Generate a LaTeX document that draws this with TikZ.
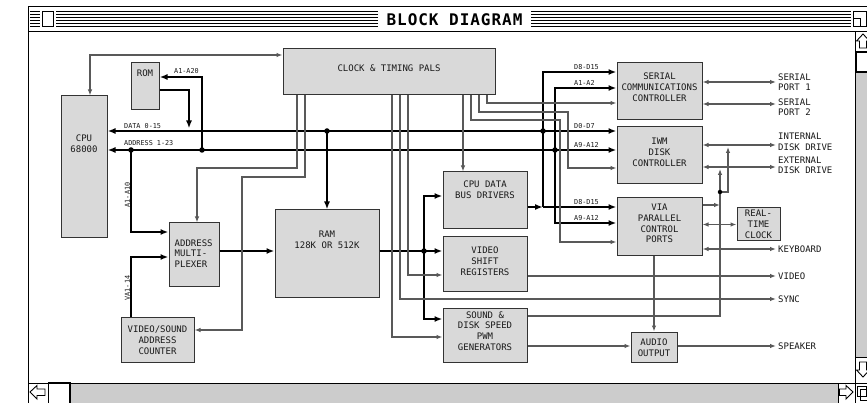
\documentclass[tikz,border=0pt]{standalone}
\usepackage{fontspec}
\usetikzlibrary{arrows.meta}
\newfontfamily\dmono{DejaVu Sans Mono}
\newfontfamily\dtitle[LetterSpace=6]{DejaVu Sans Mono}
\begin{document}
\begin{tikzpicture}[x=1pt,y=-1pt,
  box/.style={draw=black!80,fill=black!15,line width=1pt,inner sep=0pt},
  txt/.style={font=\dmono\fontsize{9}{10.8}\selectfont,align=center,text=black!90,inner sep=0pt},
  sm/.style={font=\dmono\fontsize{6.8}{8}\selectfont,text=black!90,inner sep=0pt},
  port/.style={font=\dmono\fontsize{9}{10.5}\selectfont,text=black!90,inner sep=2pt,anchor=west,align=left},
  wire/.style={line width=1.1pt,draw=black!65},
  bus/.style={line width=2.4pt,draw=black},
  ar/.style={-{Latex[length=6pt,width=4.5pt]}},
  dar/.style={{Latex[length=6pt,width=4.5pt]}-{Latex[length=6pt,width=4.5pt]}},
  bar/.style={-{Latex[length=8pt,width=6pt]}},
  bdar/.style={{Latex[length=8pt,width=6pt]}-{Latex[length=8pt,width=6pt]}},
  dot/.style={circle,fill=black,inner sep=0pt,minimum size=5.5pt},
  winline/.style={line width=1pt,draw=black},
  scrollfill/.style={fill=black!20},
]
\useasboundingbox (0,0) rectangle (867,403);
\clip (0,0) rectangle (867,403);
\fill[white] (0,0) rectangle (867,403);

% ---------- window chrome ----------
\foreach \yy in {12,15,18,21,24,27} \draw[line width=1pt] (30,\yy) -- (867,\yy);
\fill[white] (40,9) rectangle (56,30);
\draw[line width=1pt,fill=white] (42,12) rectangle (53,27);
\fill[white] (378,9) rectangle (531,30);
\node[font=\dtitle\bfseries\fontsize{16}{16}\selectfont,inner sep=0pt] (title) at (454.5,19.5) {BLOCK DIAGRAM};
\fill[white] (851,9) rectangle (867,30);
\draw[line width=1pt] (853,12) rectangle (866,27);
\draw[line width=1pt] (853,19) -- (860,19) -- (860,27);
\draw[winline] (28,7) -- (870,7);
\draw[winline] (28,7) -- (28,410);
\draw[winline] (28,31.5) -- (870,31.5);
% right scrollbar
\fill[scrollfill] (855,72) rectangle (870,357);
\draw[winline] (855,31.5) -- (855,383);
\draw[winline] (855,52) -- (870,52);
\draw[line width=1.6pt,fill=white] (856,52.5) rectangle (870,72);
\draw[winline] (855,357) -- (870,357);
\draw[line width=0.9pt,fill=white] (863,34) -- (856.5,41) -- (859.5,41) -- (859.5,48) -- (866.5,48) -- (866.5,41) -- (869.5,41) -- cycle;
\draw[line width=0.9pt,fill=white] (863,377) -- (856.5,370) -- (859.5,370) -- (859.5,362) -- (866.5,362) -- (866.5,370) -- (869.5,370) -- cycle;
% bottom scrollbar
\fill[scrollfill] (70,383) rectangle (838,410);
\draw[winline] (28,383) -- (870,383);
\draw[line width=1.2pt,fill=white] (48.5,383) rectangle (70,410);
\draw[winline] (838,383) -- (838,410);
\draw[winline] (855,383) -- (855,410);
\draw[line width=0.9pt,fill=white] (30,392) -- (37,385.5) -- (37,389) -- (45,389) -- (45,395.5) -- (37,395.5) -- (37,399) -- cycle;
\draw[line width=0.9pt,fill=white] (853,392) -- (846,385.5) -- (846,389) -- (839.5,389) -- (839.5,395.5) -- (846,395.5) -- (846,399) -- cycle;
\draw[line width=0.9pt] (857,386) rectangle (866,396);
\draw[line width=0.9pt] (860,389) rectangle (870,400);

% ---------- blocks ----------
\node[box,minimum width=46pt,minimum height=142pt] (cpu) at (84,167) {};
\node[txt] (cpuT) at (84,144) {CPU\\68000};
\node[box,minimum width=28pt,minimum height=47pt] (rom) at (145,86.5) {};
\node[txt] (romT) at (145,73) {ROM};
\node[box,minimum width=212pt,minimum height=46pt] (clock) at (389,72) {};
\node[txt] (clockT) at (389,68) {CLOCK \& TIMING PALS};
\node[box,minimum width=50pt,minimum height=64pt] (mux) at (194,255) {};
\node[txt,align=left,anchor=west] (muxT) at (174.5,253.5) {ADDRESS\\MULTI-\\PLEXER};
\node[box,minimum width=73pt,minimum height=45pt] (ctr) at (157.5,339.5) {};
\node[txt] (ctrT) at (157.5,340.5) {VIDEO/SOUND\\ADDRESS\\COUNTER};
\node[box,minimum width=104pt,minimum height=87pt] (ram) at (327,253.5) {};
\node[txt] (ramT) at (327,240) {RAM\\128K OR 512K};
\node[box,minimum width=84pt,minimum height=57pt] (bd) at (485,200.5) {};
\node[txt] (bdT) at (485,189.5) {CPU DATA\\BUS DRIVERS};
\node[box,minimum width=84pt,minimum height=54pt] (vsr) at (485,264) {};
\node[txt] (vsrT) at (485,261.5) {VIDEO\\SHIFT\\REGISTERS};
\node[box,minimum width=84pt,minimum height=54pt] (snd) at (485,335) {};
\node[txt] (sndT) at (485,331) {SOUND \&\\DISK SPEED\\PWM\\GENERATORS};
\node[box,minimum width=85pt,minimum height=57pt] (scc) at (659.5,91.5) {};
\node[txt] (sccT) at (659.5,87.5) {SERIAL\\COMMUNICATIONS\\CONTROLLER};
\node[box,minimum width=85pt,minimum height=57pt] (iwm) at (659.5,155.5) {};
\node[txt] (iwmT) at (659.5,152) {IWM\\DISK\\CONTROLLER};
\node[box,minimum width=85pt,minimum height=58pt] (via) at (659.5,227) {};
\node[txt] (viaT) at (659.5,223.5) {VIA\\PARALLEL\\CONTROL\\PORTS};
\node[box,minimum width=43pt,minimum height=33pt] (rtc) at (758.5,224.5) {};
\node[txt] (rtcT) at (758.5,224) {REAL-\\TIME\\CLOCK};
\node[box,minimum width=46pt,minimum height=30pt] (aud) at (654,347) {};
\node[txt] (audT) at (654,348) {AUDIO\\OUTPUT};

% ---------- outside labels ----------
\node[port] (lp1) at (776,82) {SERIAL\\PORT 1};
\node[port] (lp2) at (776,107) {SERIAL\\PORT 2};
\node[port] (lid) at (776,142) {INTERNAL\\DISK DRIVE};
\node[port] (led) at (776,165.5) {EXTERNAL\\DISK DRIVE};
\node[port] (lkb) at (776,249) {KEYBOARD};
\node[port] (lvid) at (776,276) {VIDEO};
\node[port] (lsync) at (776,299) {SYNC};
\node[port] (lspk) at (776,346) {SPEAKER};

% ---------- junctions ----------
\coordinate (jram) at (327,131);
\coordinate (jscc) at (543,131);
\coordinate (ja10) at (131,150);
\coordinate (jrom) at (202,150);
\coordinate (jsca) at (555,150);
\coordinate (jram2) at (424,251);
\coordinate (jbd) at (543,207);
\coordinate (jdisk) at (720,192);
\coordinate (romin) at (189,128.5);

% ---------- buses ----------
\draw[bus,bdar] (cpu.east |- 0,131) -- (iwm.west |- 0,131);
\draw[bus,bdar] (cpu.east |- 0,150) -- (iwm.west |- 0,150);
\node[sm,anchor=west] (ldata) at (124,126) {DATA 0-15};
\node[sm,anchor=west] (laddr) at (124,143) {ADDRESS 1-23};
\draw[bus,bar] (rom.east |- 0,90) -| (romin);
\draw[bus,bar] (jrom) |- (rom.east |- 0,77);
\node[sm,anchor=west] (la20) at (174,71) {A1-A20};
\draw[bus,bar] (jram) -- (ram.north);
\draw[bus,bar] (ja10) |- (mux.west |- 0,232);
\node[sm,rotate=90] (la10) at (127.5,195) {A1-A10};
\draw[bus,bar] (ctr.north -| ja10) |- (mux.west |- 0,257);
\node[sm,rotate=90] (lva) at (127.5,288) {VA1-14};
\draw[bus,bar] (mux.east |- 0,251) -- (ram.west |- 0,251);
\draw[bus] (ram.east |- jram2) -- (jram2);
\draw[bus,bar] (jram2) -- (vsr.west |- jram2);
\draw[bus,bar] (jram2) |- (bd.west |- 0,196);
\draw[bus,bar] (jram2) |- (snd.west |- 0,319);
\draw[bus,bar] (bd.east |- jbd) -- (jbd);
\draw[bus,bar] (jbd) -- (via.west |- jbd);
\draw[bus,bar] (jbd) |- (scc.west |- 0,72);
\draw[bus,bar] (jsca) |- (scc.west |- 0,88);
\draw[bus,bar] (jsca) |- (via.west |- 0,223);
\node[sm,anchor=west] (lscd) at (574,67) {D8-D15};
\node[sm,anchor=west] (lsca) at (574,83) {A1-A2};
\node[sm,anchor=west] (liwd) at (574,126) {D0-D7};
\node[sm,anchor=west] (liwa) at (574,145) {A9-A12};
\node[sm,anchor=west] (lvid2) at (574,202) {D8-D15};
\node[sm,anchor=west] (lvia) at (574,218) {A9-A12};

% ---------- control wires ----------
\draw[wire,dar] (cpu.north -| 90,0) |- (clock.west |- 0,55);
\draw[wire,ar] (clock.south -| 297,0) |- (197,168) -- (mux.north -| 197,0);
\draw[wire,ar] (clock.south -| 305,0) |- (242,177) |- (ctr.east |- 0,330);
\draw[wire,ar] (clock.south -| 392,0) |- (snd.west |- 0,337);
\draw[wire,ar] (clock.south -| 400,0) |- (lsync.west);
\draw[wire,ar] (clock.south -| 408,0) |- (vsr.west |- 0,275);
\draw[wire,ar] (clock.south -| 463,0) -- (bd.north -| 463,0);
\draw[wire,ar] (clock.south -| 471,0) |- (560,120) |- (via.west |- 0,242);
\draw[wire,ar] (clock.south -| 479,0) |- (568,112) |- (iwm.west |- 0,168);
\draw[wire,ar] (clock.south -| 487,0) |- (scc.west |- 0,103);
\draw[wire,dar] (scc.east |- 0,82) -- (lp1.west |- 0,82);
\draw[wire,dar] (scc.east |- 0,104) -- (lp2.west |- 0,104);
\draw[wire,dar] (iwm.east |- 0,145) -- (lid.west |- 0,145);
\draw[wire,dar] (iwm.east |- 0,167) -- (led.west |- 0,167);
\draw[wire,ar] (via.east |- 0,205) -- (jdisk |- 0,205);
\draw[wire,dar] (via.east |- rtc.west) -- (rtc.west);
\draw[wire,dar] (via.east |- lkb.west) -- (lkb.west);
\draw[wire,ar] (via.south -| aud.north) -- (aud.north);
\draw[wire] (snd.east |- 0,316) -| (jdisk);
\draw[wire,ar] (jdisk) -- (720,169);
\draw[wire,ar] (jdisk) -| (728,147);
\draw[wire,ar] (vsr.east |- lvid.west) -- (lvid.west);
\draw[wire,ar] (snd.east |- 0,346) -- (aud.west |- 0,346);
\draw[wire,ar] (aud.east |- lspk.west) -- (lspk.west);

% ---------- dots ----------
\node[dot] (d1) at (jram) {};
\node[dot] (d2) at (jscc) {};
\node[dot] (d3) at (ja10) {};
\node[dot] (d4) at (jrom) {};
\node[dot] (d5) at (jsca) {};
\node[dot] (d6) at (jram2) {};
\node[dot,minimum size=4.5pt] (d7) at (jdisk) {};
\end{tikzpicture}
\end{document}
